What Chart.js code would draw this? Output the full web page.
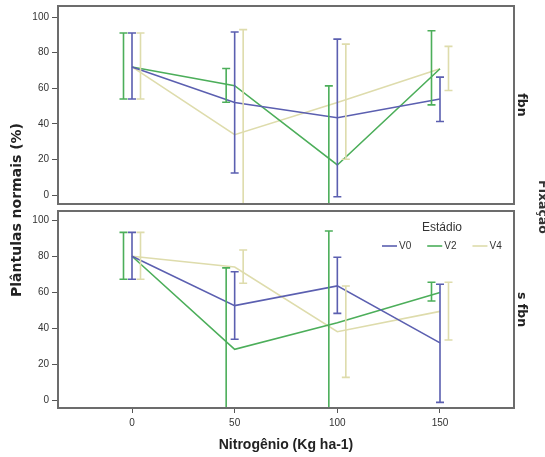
<!DOCTYPE html>
<html>
<head>
<meta charset="utf-8">
<script src="https://cdn.jsdelivr.net/npm/chart.js@4.4.1/dist/chart.umd.min.js"></script>
<style>
  html, body { margin: 0; padding: 0; background: #fff; }
  #wrap { width: 545px; height: 457px; }
</style>
</head>
<body>
<div id="wrap"><canvas id="chart" width="545" height="457"></canvas></div>
<script>
// Doses of nitrogen on the x axis
const doses = [0, 50, 100, 150];
const xTicks = [0, 50, 100, 150];
const yTicks = [0, 20, 40, 60, 80, 100];
const estadios = ['V0', 'V2', 'V4'];
const facets = ['fbn', 's fbn'];

// Panel "fbn": means and error bar limits
const fbnV0 = [72, 52, 43.5, 54];
const fbnV0Lo = [54, 12.5, -0.8, 41.4];
const fbnV0Hi = [91, 91.6, 87.6, 66.3];
const fbnV2 = [72, 61.5, 17, 71];
const fbnV2Lo = [54, 52.2, -27, 50.7];
const fbnV2Hi = [91, 71.1, 61.4, 92.3];
const fbnV4 = [72, 34, 52, 71];
const fbnV4Lo = [54, -25, 20.2, 58.8];
const fbnV4Hi = [91, 92.9, 84.8, 83.5];

// Panel "s fbn"
const sfbnV0 = [80, 52.5, 63.5, 31.8];
const sfbnV0Lo = [67.2, 33.8, 48.2, -1.3];
const sfbnV0Hi = [93.3, 71.4, 79.4, 64.4];
const sfbnV2 = [80, 28.2, 43, 59.8];
const sfbnV2Lo = [67.2, -17, -8, 55.1];
const sfbnV2Hi = [93.3, 73.5, 94, 65.5];
const sfbnV4 = [80, 74, 38, 49.3];
const sfbnV4Lo = [67.2, 65, 12.6, 33.4];
const sfbnV4Hi = [93.3, 83.5, 63.4, 65.5];

// styles
const colors = ['#5b5fb0', '#4cae5a', '#dedcac'];
const dodge = [0, -8.5, 8.5]; // px shift of the error bars per estadio
const frameColor = '#6c6c6c';
const tickFont = { family: 'Liberation Sans, Arial, sans-serif', size: 10 };

function makeSets(axisId, means, los, his) {
  return means.map((m, i) => ({
    label: estadios[i],
    yAxisID: axisId,
    data: doses.map((d, j) => ({ x: d, y: m[j] })),
    errLo: los[i],
    errHi: his[i],
    dodge: dodge[i],
    borderColor: colors[i],
    backgroundColor: colors[i],
    borderWidth: 1.6,
    pointRadius: 0,
    tension: 0
  }));
}

const datasets = [
  ...makeSets('yF', [fbnV0, fbnV2, fbnV4], [fbnV0Lo, fbnV2Lo, fbnV4Lo], [fbnV0Hi, fbnV2Hi, fbnV4Hi]),
  ...makeSets('yS', [sfbnV0, sfbnV2, sfbnV4], [sfbnV0Lo, sfbnV2Lo, sfbnV4Lo], [sfbnV0Hi, sfbnV2Hi, sfbnV4Hi])
];

// box of each facet inside the stacked y axes
function panelBox(chart, axisId) {
  const ys = chart.scales[axisId];
  const area = chart.chartArea;
  if (axisId === 'yF') return { left: area.left, right: area.right, top: ys.top, bottom: ys.bottom - 4 };
  return { left: area.left, right: area.right, top: ys.top + 3, bottom: ys.bottom };
}

const errorBars = {
  id: 'errorBars',
  afterDatasetsDraw(chart) {
    const ctx = chart.ctx;
    const xs = chart.scales.x;
    chart.data.datasets.forEach((ds) => {
      const ys = chart.scales[ds.yAxisID];
      const box = panelBox(chart, ds.yAxisID);
      ctx.save();
      ctx.beginPath();
      ctx.rect(box.left, box.top, box.right - box.left, box.bottom - box.top);
      ctx.clip();
      ctx.strokeStyle = ds.borderColor;
      ctx.lineWidth = 1.6;
      ds.data.forEach((pt, j) => {
        const x = xs.getPixelForValue(pt.x) + ds.dodge;
        const yLo = ys.getPixelForValue(ds.errLo[j]);
        const yHi = ys.getPixelForValue(ds.errHi[j]);
        ctx.beginPath();
        ctx.moveTo(x, yLo); ctx.lineTo(x, yHi);
        ctx.moveTo(x - 4, yLo); ctx.lineTo(x + 4, yLo);
        ctx.moveTo(x - 4, yHi); ctx.lineTo(x + 4, yHi);
        ctx.stroke();
      });
      ctx.restore();
    });
  }
};

function rotText(ctx, txt, x, y, angle, font, color) {
  ctx.save();
  ctx.translate(x, y);
  ctx.rotate(angle);
  ctx.font = font;
  ctx.fillStyle = color;
  ctx.textAlign = 'center';
  ctx.textBaseline = 'middle';
  ctx.fillText(txt, 0, 0);
  ctx.restore();
}

const facetDecor = {
  id: 'facetDecor',
  afterDraw(chart) {
    const ctx = chart.ctx;
    const boxes = [panelBox(chart, 'yF'), panelBox(chart, 'yS')];
    ctx.save();
    ctx.strokeStyle = frameColor;
    ctx.lineWidth = 2;
    boxes.forEach((b, i) => {
      ctx.strokeRect(b.left, b.top, b.right - b.left, b.bottom - b.top);
      rotText(ctx, facets[i], b.right + 7, (b.top + b.bottom) / 2, Math.PI / 2,
        'bold 12.5px "DejaVu Sans", sans-serif', '#222');
    });
    ctx.restore();
    const area = chart.chartArea;
    rotText(ctx, 'Plântulas normais (%)', 17, 210, -Math.PI / 2,
      'bold 14px "DejaVu Sans", sans-serif', '#222');
    rotText(ctx, 'Fixação', area.right + 28, (area.top + area.bottom) / 2, Math.PI / 2,
      'bold 12.5px "DejaVu Sans", sans-serif', '#333');
  }
};

// legend drawn inside the lower facet
const facetLegend = {
  id: 'facetLegend',
  afterDraw(chart) {
    const ctx = chart.ctx;
    const b = panelBox(chart, 'yS');
    ctx.save();
    ctx.fillStyle = '#333';
    ctx.font = '12px "Liberation Sans", Arial, sans-serif';
    ctx.textAlign = 'center';
    ctx.textBaseline = 'middle';
    ctx.fillText('Estádio', b.right - 72, b.top + 17);
    ctx.font = '10px "Liberation Sans", Arial, sans-serif';
    ctx.textAlign = 'left';
    let x = b.right - 132;
    const y = b.top + 35;
    estadios.forEach((lab, i) => {
      ctx.strokeStyle = colors[i];
      ctx.lineWidth = 1.6;
      ctx.beginPath();
      ctx.moveTo(x, y); ctx.lineTo(x + 15, y);
      ctx.stroke();
      ctx.fillText(lab, x + 17, y);
      x += 15 + 2 + ctx.measureText(lab).width + 16;
    });
    ctx.restore();
  }
};

function yAxis(weight, min, max) {
  return {
    type: 'linear',
    position: 'left',
    stack: 'facet',
    stackWeight: weight,
    min: min,
    max: max,
    afterBuildTicks: (s) => { s.ticks = yTicks.map(v => ({ value: v })); },
    afterFit: (s) => { s.width = 58; s.paddingTop = 0; s.paddingBottom = 0; },
    grid: { drawOnChartArea: false, tickLength: 6, color: '#555', tickWidth: 1 },
    border: { display: false },
    ticks: { font: tickFont, color: '#333', padding: 3 }
  };
}

new Chart(document.getElementById('chart'), {
  type: 'line',
  data: { datasets: datasets },
  options: {
    responsive: false,
    animation: false,
    devicePixelRatio: 1,
    layout: { padding: { top: 6, right: 31, bottom: 0, left: 0 } },
    plugins: { legend: { display: false }, tooltip: { enabled: false } },
    scales: {
      x: {
        type: 'linear',
        position: 'bottom',
        min: -36.04,
        max: 186.04,
        afterBuildTicks: (s) => { s.ticks = xTicks.map(v => ({ value: v })); },
        afterFit: (s) => { s.height = 49; },
        grid: { drawOnChartArea: false, tickLength: 5, color: '#555', tickWidth: 1 },
        border: { display: false },
        ticks: { font: tickFont, color: '#333', padding: 4 },
        title: {
          display: true,
          text: 'Nitrogênio (Kg ha-1)',
          color: '#222',
          font: { family: 'Liberation Sans, Arial, sans-serif', size: 14, weight: 'bold' },
          padding: { top: 0, bottom: 3 }
        }
      },
      yS: yAxis(200, -4.45, 106.84),
      yF: yAxis(202, -7.12, 106.17)
    }
  },
  plugins: [errorBars, facetDecor, facetLegend]
});
</script>
</body>
</html>
